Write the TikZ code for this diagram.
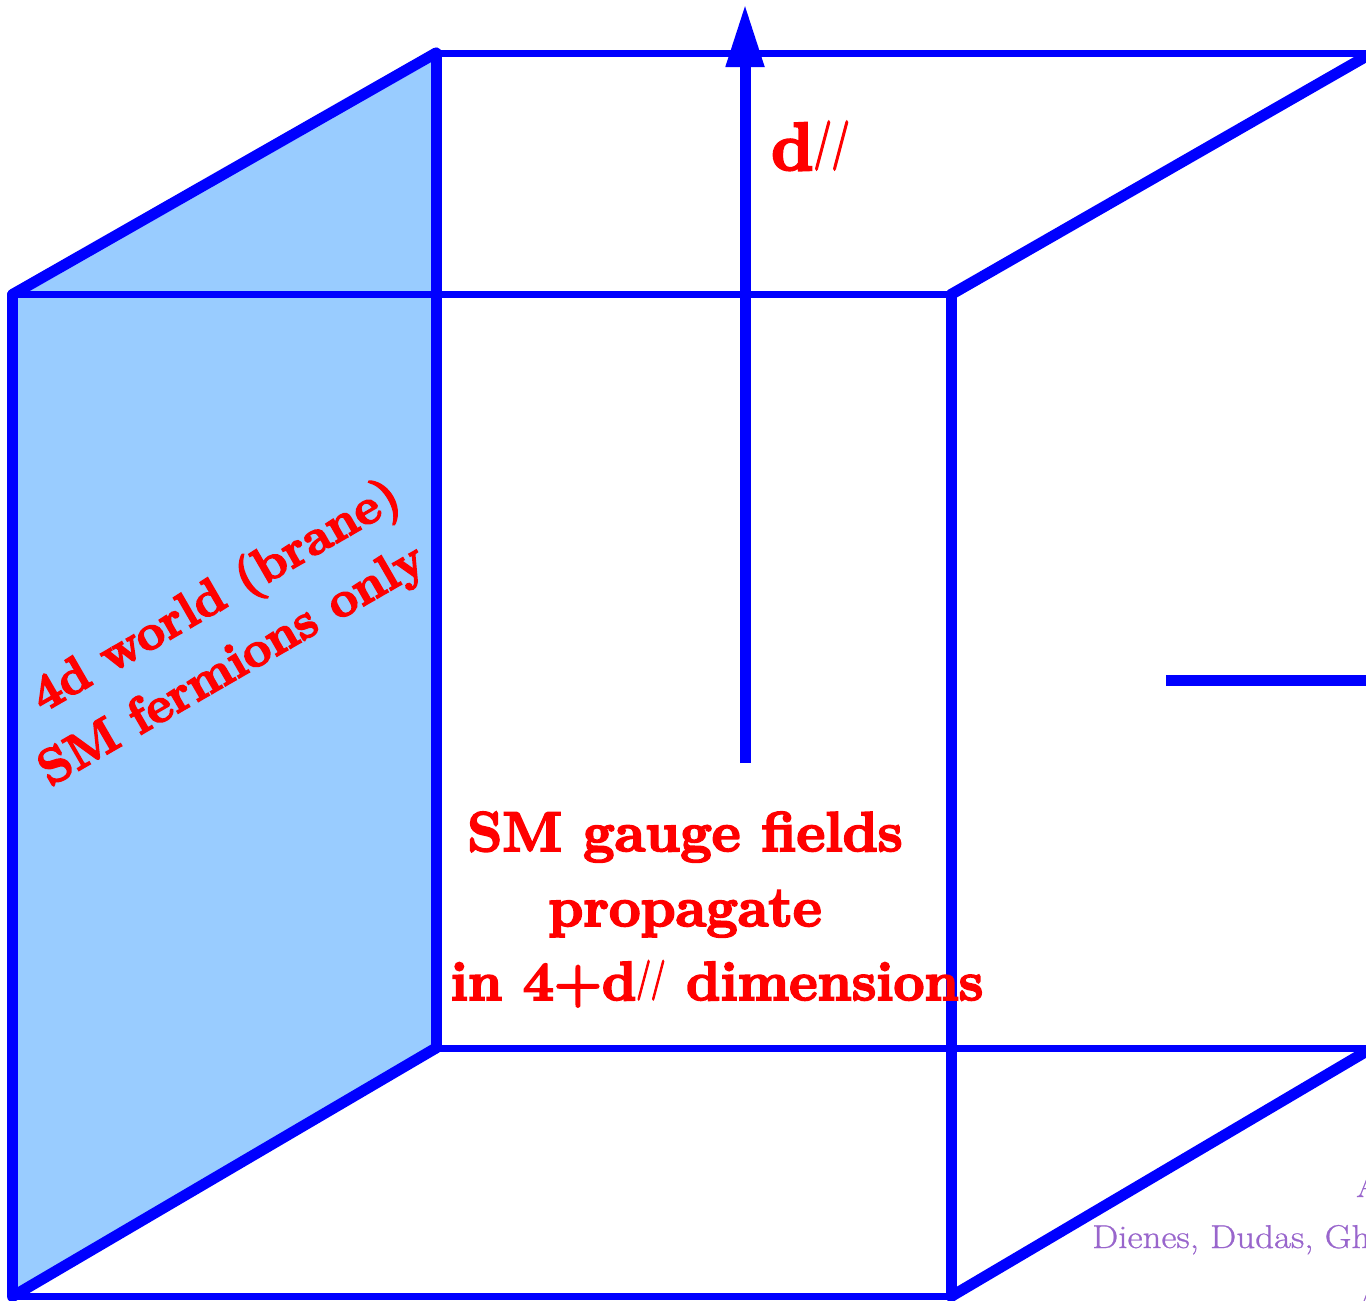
\documentclass[tikz,border=0pt]{standalone}
\usepackage{graphicx}
\usepackage{fontspec}
\usetikzlibrary{arrows.meta}
\newfontfamily\heavyfont{Latin Modern Roman}[BoldFeatures={FakeBold=3.5}]
\newfontfamily\widefont{Latin Modern Roman}[FakeStretch=1.12,FakeBold=0.8]
\definecolor{edgeblue}{RGB}{0,0,255}
\definecolor{branefill}{RGB}{153,204,255}
\definecolor{labelred}{RGB}{255,0,0}
\definecolor{creditpurple}{RGB}{153,102,204}
\newcommand{\parslash}{\raisebox{0.18em}{\scalebox{0.47}[0.72]{//}}}
\tikzset{
  thickedge/.style={draw=edgeblue,line width=11pt,line cap=round},
  thinedge/.style={draw=edgeblue,line width=7pt},
  axisarrow/.style={draw=edgeblue,line width=11pt,-{Triangle[length=63pt,width=36pt]}},
  redlabel/.style={text=labelred,font=\fontsize{56}{74}\selectfont\heavyfont\bfseries,inner sep=0pt},
  bigd/.style={text=labelred,font=\fontsize{68}{74}\selectfont\heavyfont\bfseries,inner sep=0pt},
  branelabel/.style={text=labelred,font=\fontsize{50}{62}\selectfont\heavyfont\bfseries,inner sep=0pt,rotate=30},
  credit/.style={text=creditpurple,font=\fontsize{33}{36}\selectfont\widefont,anchor=base west,inner sep=0pt}
}
\begin{document}
\begin{tikzpicture}[x=1pt,y=-1pt]
\useasboundingbox (0,0) rectangle (1366,1301);
\clip (0,0) rectangle (1366,1301);
\coordinate (ftl) at (12.5,294.5);
\coordinate (ftr) at (951,294.5);
\coordinate (fbl) at (12.5,1296.5);
\coordinate (fbr) at (951,1296.5);
\coordinate (btl) at (436,53);
\coordinate (btr) at (1372,53);
\coordinate (bbl) at (436,1048);
\coordinate (bbr) at (1372,1048);
\coordinate (axisfoot) at (745,763);
\coordinate (axishead) at (745,4);
\coordinate (stubl) at (1166,680);
\coordinate (stubr) at (1372,680);
\fill[branefill] (ftl) -- (btl) -- (bbl) -- (fbl) -- cycle;
\draw[thinedge] (ftl) -- (ftr);
\draw[thinedge] (fbl) -- (fbr);
\draw[thinedge] (btl) -- (btr);
\draw[thinedge] (bbl) -- (bbr);
\draw[thickedge] (ftl) -- (fbl);
\draw[thickedge] (btl) -- (bbl);
\draw[thickedge] (ftr) -- (fbr);
\draw[thickedge] (ftl) -- (btl);
\draw[thickedge] (fbl) -- (bbl);
\draw[thickedge] (ftr) -- (btr);
\draw[thickedge] (fbr) -- (bbr);
\draw[axisarrow] (axisfoot) -- (axishead);
\draw[draw=edgeblue,line width=11pt] (stubl) -- (stubr);
\node[bigd,anchor=base west] (dlabel) at (771,170) {d\parslash};
\node[redlabel,anchor=base] (g1) at (685,851) {SM gauge fields};
\node[redlabel,anchor=base] (g2) at (685,926) {propagate};
\node[redlabel,anchor=base,font=\fontsize{55}{74}\selectfont\heavyfont\bfseries] (g3) at (717,1000) {in 4+d\parslash\ dimensions};
\node[branelabel] (b1) at (217,598) {4d world (brane)};
\node[branelabel] (b2) at (233,667) {SM fermions only};
\node[credit] (c1) at (1356,1197) {A};
\node[credit] (c2) at (1092,1248) {Dienes, Dudas, Gh};
\node[credit] (c3) at (1356,1312) {A};
\end{tikzpicture}
\end{document}
